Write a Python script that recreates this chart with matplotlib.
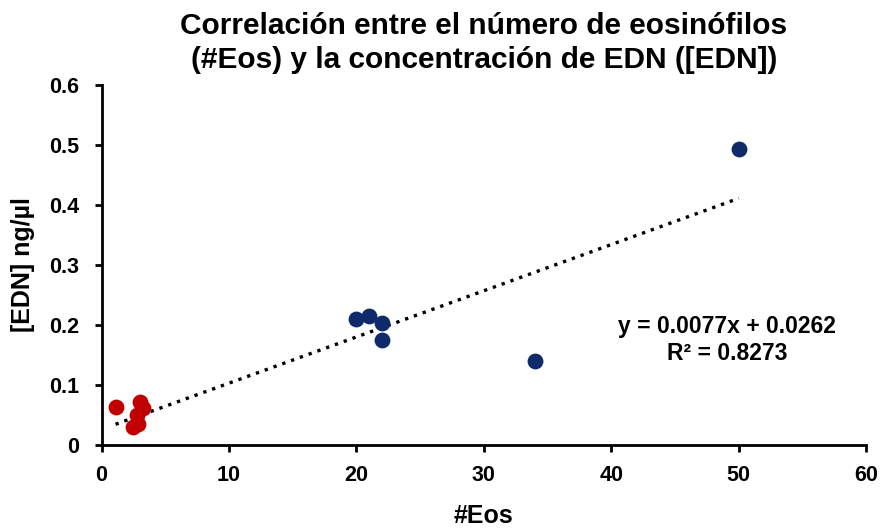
import matplotlib
matplotlib.use("Agg")
import matplotlib.pyplot as plt
import numpy as np

plt.rcParams["font.family"] = ["Liberation Sans", "DejaVu Sans"]

# low-count samples (red) and high-count samples (blue)
eos_low = [1.1, 2.5, 2.9, 2.75, 3.0, 3.25]
edn_low = [0.064, 0.030, 0.035, 0.050, 0.072, 0.062]
eos_high = [20, 21, 22, 22, 34, 50]
edn_high = [0.210, 0.215, 0.203, 0.175, 0.140, 0.493]

slope = 0.0077
intercept = 0.0262
r2 = 0.8273

title = "Correlación entre el número de eosinófilos\n(#Eos) y la concentración de EDN ([EDN])"

fig = plt.figure(figsize=(8.82, 5.28), dpi=100)
ax = fig.add_axes([0.1151, 0.157, 0.867, 0.682])

ax.scatter(eos_low, edn_low, s=130, color="#c00000", zorder=3, linewidths=0)
ax.scatter(eos_high, edn_high, s=130, color="#0e2a6b", zorder=3, linewidths=0)

xs = np.array([min(eos_low + eos_high), max(eos_low + eos_high)])
ax.plot(xs, slope * xs + intercept, color="black", lw=2.4, ls=(0, (1, 1.8)), zorder=2)

ax.text(49.1, 0.175, f"y = {slope}x + {intercept}\nR² = {r2}", ha="center", va="center",
        fontsize=16.5, fontweight="bold", linespacing=1.2)

ax.set_xlim(0, 60)
ax.set_ylim(0, 0.6)
ax.set_xticks(range(0, 61, 10))
ax.set_yticks(np.arange(0, 0.61, 0.1))
ax.set_yticklabels(["0", "0.1", "0.2", "0.3", "0.4", "0.5", "0.6"])
for lab in ax.get_xticklabels() + ax.get_yticklabels():
    lab.set_fontweight("bold")
ax.tick_params(labelsize=15.5, width=2, length=5)
ax.tick_params(axis="y", pad=11)
ax.tick_params(axis="x", pad=9)

for side in ("top", "right"):
    ax.spines[side].set_visible(False)
for side in ("left", "bottom"):
    ax.spines[side].set_linewidth(2)

ax.set_xlabel("#Eos", fontsize=18, fontweight="bold", labelpad=13)
ax.set_ylabel("[EDN] ng/µl", fontsize=18, fontweight="bold", labelpad=10)
ax.set_title(title, fontsize=21.5, fontweight="bold", pad=12, linespacing=1.3)

fig.savefig("out.png", dpi=100)
